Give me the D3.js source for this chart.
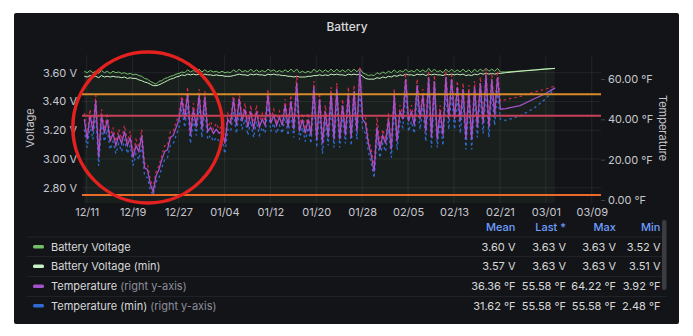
<!DOCTYPE html>
<html>
<head>
<meta charset="utf-8">
<script src="https://cdn.jsdelivr.net/npm/d3@7"></script>
<style>
body { margin: 0; background: #fff; }
svg { display: block; font-family: Inter, Roboto, sans-serif; }
</style>
</head>
<body>
<svg id="chart" width="693" height="336"></svg>
<script>
// samples every 12h starting 2021-12-10 14:00 (day peak, night trough), then a sparse tail
const tailTimes = ["2022-02-22T00:00", "2022-02-24T12:00", "2022-02-27T00:00", "2022-03-01T00:00", "2022-03-02T14:00"]

const voltage = [
  3.61,3.60, 3.615,3.60, 3.61,3.595, 3.615,3.60, 3.61,3.595, 3.61,3.60, 3.605,3.595, 3.60,3.59, 3.595,3.585, 3.59,3.58,
  3.575,3.56, 3.555,3.54, 3.53,3.52, 3.54,3.545, 3.56,3.565, 3.575,3.58, 3.59,3.595, 3.605,3.60, 3.62,3.605, 3.615,3.605,
  3.625,3.605, 3.62,3.605, 3.615,3.605, 3.61,3.60, 3.61,3.60, 3.605,3.60, 3.62,3.605, 3.625,3.605, 3.615,3.605, 3.625,3.605,
  3.62,3.605, 3.615,3.605, 3.625,3.61, 3.62,3.605, 3.615,3.605, 3.62,3.605, 3.625,3.605, 3.625,3.60, 3.61,3.60, 3.61,3.60,
  3.625,3.605, 3.62,3.605, 3.62,3.605, 3.625,3.605, 3.625,3.605, 3.62,3.605, 3.625,3.605, 3.625,3.605, 3.63,3.60, 3.59,3.58,
  3.585,3.58, 3.60,3.59, 3.605,3.595, 3.61,3.60, 3.62,3.60, 3.615,3.605, 3.625,3.605, 3.615,3.605, 3.625,3.605, 3.62,3.605,
  3.63,3.605, 3.625,3.605, 3.615,3.60, 3.625,3.605, 3.625,3.605, 3.62,3.605, 3.625,3.605, 3.62,3.60, 3.625,3.605, 3.625,3.61,
  3.63,3.61, 3.625,3.61, 3.63,3.605,
  3.605, 3.612, 3.62, 3.627, 3.63
]
const voltageMin = [
  3.575,3.57, 3.58,3.57, 3.575,3.565, 3.58,3.57, 3.575,3.57, 3.575,3.57, 3.57,3.565, 3.57,3.56, 3.565,3.56, 3.56,3.55,
  3.545,3.535, 3.53,3.52, 3.51,3.51, 3.515,3.525, 3.535,3.545, 3.555,3.56, 3.57,3.575, 3.585,3.58, 3.59,3.585, 3.59,3.585,
  3.59,3.585, 3.59,3.585, 3.585,3.58, 3.585,3.58, 3.58,3.575, 3.575,3.575, 3.58,3.585, 3.59,3.585, 3.585,3.58, 3.59,3.585,
  3.59,3.585, 3.585,3.58, 3.59,3.585, 3.59,3.585, 3.585,3.58, 3.58,3.575, 3.575,3.57, 3.575,3.57, 3.57,3.57, 3.575,3.575,
  3.58,3.58, 3.585,3.58, 3.585,3.58, 3.59,3.585, 3.59,3.585, 3.585,3.58, 3.59,3.585, 3.59,3.585, 3.59,3.575, 3.56,3.555,
  3.555,3.555, 3.565,3.56, 3.57,3.565, 3.575,3.57, 3.58,3.575, 3.585,3.58, 3.59,3.585, 3.585,3.58, 3.59,3.585, 3.59,3.58,
  3.59,3.585, 3.59,3.585, 3.585,3.58, 3.59,3.585, 3.59,3.585, 3.59,3.585, 3.59,3.58, 3.585,3.58, 3.59,3.585, 3.595,3.59,
  3.595,3.59, 3.595,3.59, 3.595,3.595,
  3.60, 3.61, 3.618, 3.625, 3.63
]
const temperature = [
  40,30, 42,34, 49,21, 42,33, 40,29, 33,27, 32,28, 34,27, 31,21, 27,24,
  32,16, 15,8, 3.9,12, 15,20, 24,25, 31,32, 36,40, 50,40, 53,32, 45,36,
  52,35, 51,34, 36,33, 35,33, 34,28, 40,38, 50,37, 50,39, 45,36, 44,35,
  44,36, 40,37, 52,38, 42,37, 41,37, 47,36, 49,35, 58,34, 40,33, 40,32,
  56,30, 50,28, 44,31, 53,30, 55,30, 47,32, 53,31, 54,34, 64.2,40, 38,28,
  22,14, 36,25, 32,28, 40,25, 52,29, 44,40, 60,39, 44,37, 57,40, 52,34,
  61,31, 59,30, 44,32, 61,40, 60,40, 56,39, 55,30, 54,30, 56,36, 58,38,
  62,36, 60,42, 61,45,
  45.3, 46.8, 50.2, 52.8, 55.58
]
const temperatureMin = [
  35,26, 37,30, 43,17, 37,29, 35,25, 29,23, 28,24, 30,23, 27,17, 23,20,
  27,12, 11,5, 2.5,9, 11,16, 20,21, 27,28, 32,36, 45,36, 47,28, 40,32,
  46,31, 45,30, 32,29, 31,29, 30,23, 35,34, 44,33, 44,35, 40,32, 39,31,
  39,32, 36,33, 46,34, 38,33, 37,33, 42,32, 43,31, 51,30, 36,29, 36,28,
  50,26, 44,23, 39,27, 47,26, 49,26, 42,28, 47,27, 48,30, 55,35, 33,24,
  18,11, 31,21, 28,24, 35,21, 46,25, 39,36, 53,34, 39,33, 50,35, 46,29,
  54,26, 52,26, 39,27, 54,35, 53,35, 50,33, 49,25, 48,25, 50,31, 52,33,
  55,31, 53,37, 54,40,
  39.5, 41.6, 45.6, 50.2, 55.58
]
// hidden max series (red dashed, not in legend)
const temperatureMax = [
  43,32, 45,36, 52,24, 45,35, 43,31, 36,29, 35,30, 37,29, 34,23, 30,26,
  35,18, 18,10, 6,14, 17,22, 27,27, 34,34, 39,42, 53,43, 56,35, 48,38,
  55,37, 54,36, 39,35, 38,35, 37,30, 43,40, 53,39, 53,41, 48,38, 47,37,
  47,38, 43,39, 55,40, 45,39, 44,39, 50,38, 52,37, 62,36, 43,35, 43,34,
  59,32, 53,30, 47,33, 56,32, 58,32, 50,34, 56,33, 57,36, 66,42, 41,30,
  25,16, 41,27, 35,30, 43,27, 55,31, 47,42, 63,41, 47,39, 60,42, 55,36,
  64,33, 62,32, 47,34, 64,42, 63,42, 59,41, 58,32, 57,32, 59,38, 61,40,
  65,38, 63,44, 64,49,
  49.8, 51.3, 53.5, 55, 56.5
]

const thresholds = [3.45, 3.30, 2.75]
const thresholdColors = ["#d98a2b", "#c9405a", "#ea6a2a"]

const xTicks = ["2021-12-11", "2021-12-19", "2021-12-27", "2022-01-04", "2022-01-12", "2022-01-20",
  "2022-01-28", "2022-02-05", "2022-02-13", "2022-02-21", "2022-03-01", "2022-03-09"]
const vTicks = [2.8, 3.0, 3.2, 3.4, 3.6]
const tTicks = [0, 20, 40, 60]

const legendNames = ["Battery Voltage", "Battery Voltage (min)", "Temperature", "Temperature (min)"]
const legendNotes = ["", "", "(right y-axis)", "(right y-axis)"]
const legendColors = ["#73bf69", "#c8f2c2", "#a352cc", "#2f6bd0"]
const statHeaders = ["Mean", "Last *", "Max", "Min"]
const statMean = ["3.60 V", "3.57 V", "36.36 °F", "31.62 °F"]
const statLast = ["3.63 V", "3.63 V", "55.58 °F", "55.58 °F"]
const statMax = ["3.63 V", "3.63 V", "64.22 °F", "55.58 °F"]
const statMin = ["3.52 V", "3.51 V", "3.92 °F", "2.48 °F"]

// red annotation circle drawn over the cold spell (time range + voltage range it covers)
const circleSpan = ["2021-12-08T14:00", "2022-01-03T17:00"]
const circleVolts = [2.694, 3.744]

// build time axis
const parse = d3.timeParse("%Y-%m-%dT%H:%M")
const start = new Date(2021, 11, 10, 14, 0)
let times = []
for (let i = 0; i < voltage.length - tailTimes.length; i++) times.push(d3.timeHour.offset(start, 12 * i))
times = times.concat(tailTimes.map(parse))

function series(values) {
    return values.map(function(v, i) { return { t: times[i], v: v } })
}

const svg = d3.select('#chart')
const plotLeft = 82, plotRight = 601, plotTop = 55, plotBottom = 203

svg.append('rect')
    .attr('x', 14).attr('y', 13).attr('width', 665).attr('height', 311)
    .attr('rx', 2).attr('fill', '#131418')

svg.append('text')
    .attr('x', 347).attr('y', 31)
    .attr('text-anchor', 'middle')
    .attr('fill', '#d8d9da').attr('font-size', 12).attr('font-weight', 500)
    .text('Battery')

let x = d3.scaleTime()
    .domain([new Date(2021, 11, 10, 4, 20), new Date(2022, 2, 10, 14, 45)])
    .range([plotLeft, plotRight])
let yV = d3.scaleLinear().domain([2.694, 3.723]).range([plotBottom, plotTop])
let yT = d3.scaleLinear().domain([-1.5, 71.9]).range([plotBottom, plotTop])

let tickDates = xTicks.map(d3.timeParse("%Y-%m-%d"))

// grid
svg.append('g').selectAll('line').data(tickDates).join('line')
    .attr('x1', d => x(d)).attr('x2', d => x(d))
    .attr('y1', plotTop).attr('y2', plotBottom)
    .attr('stroke', 'rgba(204,204,220,0.09)')
svg.append('g').selectAll('line').data(vTicks).join('line')
    .attr('x1', plotLeft).attr('x2', plotRight)
    .attr('y1', d => yV(d)).attr('y2', d => yV(d))
    .attr('stroke', 'rgba(204,204,220,0.09)')

// axes
let gl = svg.append('g')
    .attr('transform', 'translate(' + plotLeft + ',0)')
    .call(d3.axisLeft(yV).tickValues(vTicks).tickSize(0).tickPadding(5)
        .tickFormat(d => d3.format('.2f')(d) + ' V'))
gl.select('.domain').remove()

let gr = svg.append('g')
    .attr('transform', 'translate(' + plotRight + ',0)')
    .call(d3.axisRight(yT).tickValues(tTicks).tickSize(4).tickPadding(3)
        .tickFormat(d => d3.format('.2f')(d) + ' °F'))
gr.select('.domain').remove()
gr.selectAll('line').attr('stroke', 'rgba(204,204,220,0.25)')

let gb = svg.append('g')
    .attr('transform', 'translate(0,' + plotBottom + ')')
    .call(d3.axisBottom(x).tickValues(tickDates).tickSize(0).tickPadding(5)
        .tickFormat(d3.timeFormat('%m/%d')))
gb.select('.domain').remove()

svg.selectAll('.tick text')
    .attr('fill', '#c7c8cf').attr('font-size', 11)
    .style('font-family', 'Inter, Roboto, sans-serif')

svg.append('text')
    .attr('transform', 'translate(34,128) rotate(-90)')
    .attr('text-anchor', 'middle').attr('fill', '#c7c8cf').attr('font-size', 11)
    .text('Voltage')
svg.append('text')
    .attr('transform', 'translate(659,128) rotate(90)')
    .attr('text-anchor', 'middle').attr('fill', '#c7c8cf').attr('font-size', 11)
    .text('Temperature')

// series
const vData = series(voltage), vMinData = series(voltageMin)
const tData = series(temperature), tMinData = series(temperatureMin), tMaxData = series(temperatureMax)

let lineV = d3.line().x(d => x(d.t)).y(d => yV(d.v))
let lineT = d3.line().x(d => x(d.t)).y(d => yT(d.v))
let areaV = d3.area().x(d => x(d.t)).y0(plotBottom).y1(d => yV(d.v))

svg.append('path').datum(vData)
    .attr('d', areaV).attr('fill', 'rgba(115,191,105,0.07)')

svg.append('path').datum(vData)
    .attr('d', lineV).attr('fill', 'none').attr('stroke', legendColors[0]).attr('stroke-width', 1)
svg.append('path').datum(vMinData)
    .attr('d', lineV).attr('fill', 'none').attr('stroke', legendColors[1]).attr('stroke-width', 1)
svg.append('path').datum(tMinData)
    .attr('d', lineT).attr('fill', 'none').attr('stroke', legendColors[3]).attr('stroke-width', 1.3)
    .attr('stroke-dasharray', '2.5,3')
svg.append('path').datum(tMaxData)
    .attr('d', lineT).attr('fill', 'none').attr('stroke', '#d9284a').attr('stroke-width', 1.2)
    .attr('stroke-dasharray', '2.5,3')
svg.append('path').datum(tData)
    .attr('d', lineT).attr('fill', 'none').attr('stroke', legendColors[2]).attr('stroke-width', 1.3)

// thresholds
svg.append('g').selectAll('line').data(thresholds).join('line')
    .attr('x1', plotLeft).attr('x2', plotRight)
    .attr('y1', d => yV(d)).attr('y2', d => yV(d))
    .attr('stroke', (d, i) => thresholdColors[i]).attr('stroke-width', 2)

// annotation circle
let cx0 = x(parse(circleSpan[0])), cx1 = x(parse(circleSpan[1]))
let cy0 = yV(circleVolts[1]), cy1 = yV(circleVolts[0])
svg.append('ellipse')
    .attr('cx', (cx0 + cx1) / 2).attr('cy', (cy0 + cy1) / 2)
    .attr('rx', (cx1 - cx0) / 2).attr('ry', (cy1 - cy0) / 2)
    .attr('fill', 'none').attr('stroke', '#e3211f').attr('stroke-width', 3.5)

// legend
const rowY = [246.5, 266, 286, 305.5]
const colX = [515.5, 566, 616, 660.5]
const stats = [statMean, statLast, statMax, statMin]

let lg = svg.append('g')
lg.selectAll('.hdr').data(statHeaders).join('text')
    .attr('x', (d, i) => colX[i]).attr('y', 230.5)
    .attr('text-anchor', 'end').attr('fill', '#6e9fff').attr('font-size', 11).attr('font-weight', 500)
    .text(d => d)

lg.selectAll('.sep').data([237, 256.5, 276.5, 296.5]).join('line')
    .attr('x1', 27).attr('x2', 667).attr('y1', d => d).attr('y2', d => d)
    .attr('stroke', 'rgba(204,204,220,0.08)')

lg.selectAll('.sw').data(legendColors).join('rect')
    .attr('x', 33).attr('y', (d, i) => rowY[i] - 1.5).attr('width', 11).attr('height', 3.5)
    .attr('rx', 1.5).attr('fill', d => d)

let names = lg.selectAll('.nm').data(legendNames).join('text')
    .attr('x', 51).attr('y', (d, i) => rowY[i] + 4)
    .attr('fill', '#d8d9da').attr('font-size', 11)
names.append('tspan').text(d => d)
names.append('tspan').attr('fill', '#8e8e9a').attr('dx', 3).text((d, i) => legendNotes[i])

stats.forEach(function(col, c) {
    lg.selectAll('.st' + c).data(col).join('text')
        .attr('x', colX[c]).attr('y', (d, i) => rowY[i] + 4)
        .attr('text-anchor', 'end').attr('fill', '#d8d9da').attr('font-size', 11)
        .text(d => d)
})

// scrollbar
svg.append('rect')
    .attr('x', 662).attr('y', 220).attr('width', 4.5).attr('height', 70)
    .attr('rx', 2).attr('fill', '#3a3c42')
</script>
</body>
</html>
